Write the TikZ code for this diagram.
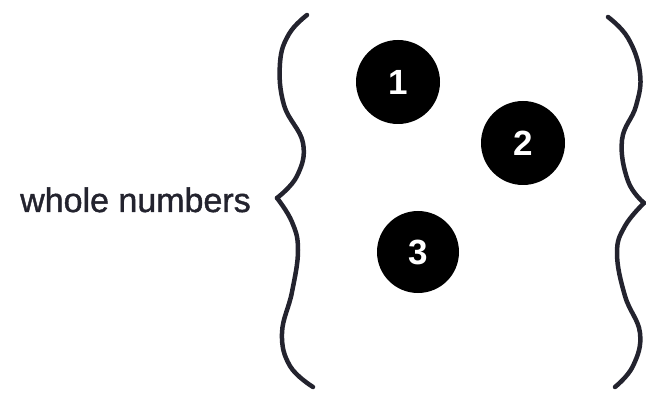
\documentclass[tikz,border=0pt]{standalone}
\usepackage{fontspec}
\setmainfont{Liberation Sans}
\newfontfamily\labelfont[FakeBold=1.2]{Liberation Sans}
\definecolor{ink}{HTML}{23232E}
\begin{document}
\begin{tikzpicture}[x=1pt,y=-1pt,
  brace/.style={draw=ink,line width=4.5pt,line cap=round,line join=round},
  numdot/.style={circle,fill=black,minimum size=84pt,inner sep=0pt,text=white,
    font=\fontsize{35}{40}\selectfont\bfseries},
  label/.style={font=\labelfont\fontsize{34}{40}\selectfont,text=ink,anchor=base west,inner sep=0pt}]
\useasboundingbox (0,0) rectangle (646,393);
\node[label] (lbl) at (20,212) {whole numbers};
\node[numdot] (n1) at (398,82) {1};
\node[numdot,minimum size=84pt] (n2) at (523,143) {2};
\node[numdot,minimum size=82pt] (n3) at (418,252) {3};
% left brace
\draw[brace] plot[smooth,tension=0.7] coordinates {(307,15) (289,34) (280,63) (284,105) (303,143) (297,176) (277,198)};
\draw[brace] plot[smooth,tension=0.7] coordinates {(277,198) (292,222) (298,250) (292,292) (282,333) (290,366) (313,387)};
% right brace
\draw[brace] plot[smooth,tension=0.7] coordinates {(608,17) (628,38) (640,73) (636,106) (622,140) (628,181) (644,203)};
\draw[brace] plot[smooth,tension=0.7] coordinates {(644,203) (625,226) (617,253) (625,296) (640,333) (633,366) (615,387)};
\end{tikzpicture}
\end{document}
